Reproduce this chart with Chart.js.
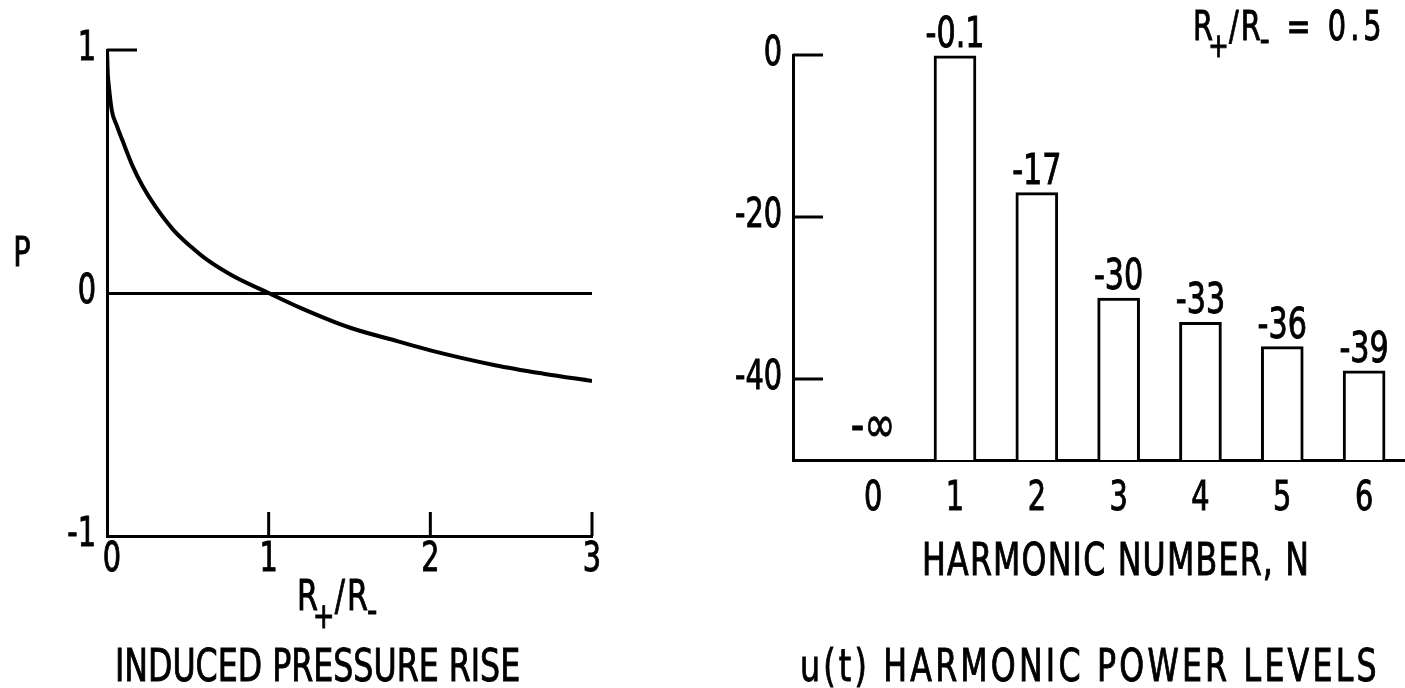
<!DOCTYPE html>
<html>
<head>
<meta charset="utf-8">
<script src="https://cdn.jsdelivr.net/npm/chart.js@4.4.1/dist/chart.umd.min.js"></script>
<style>
  body { margin: 0; background: #fff; }
  #wrap { position: relative; width: 1405px; height: 688px; }
  .box { position: absolute; top: 0; height: 688px; }
</style>
</head>
<body>
<div id="wrap">
  <div class="box" style="left:0;width:700px"><canvas id="left"></canvas></div>
  <div class="box" style="left:700px;width:705px"><canvas id="right"></canvas></div>
</div>
<script>
// left panel: induced pressure rise P vs R+/R-
const ratio    = [0, 0.005, 0.01, 0.03, 0.06, 0.1, 0.16, 0.22, 0.3, 0.41, 0.52, 0.62, 0.78, 1.0, 1.2, 1.5, 1.8, 2.0, 2.4, 2.7, 3.0];
const pressure = [1.0, 0.9, 0.86, 0.75, 0.69, 0.62, 0.52, 0.44, 0.355, 0.26, 0.19, 0.136, 0.07, 0, -0.062, -0.142, -0.199, -0.236, -0.297, -0.332, -0.362];
const ratioTicks = [0, 1, 2, 3];
const pressureTicks = [-1, 0, 1];

// right panel: harmonic power levels (dB), R+/R- = 0.5
const harmonicN = [0, 1, 2, 3, 4, 5, 6];
const powerDb   = [null, -0.1, -17, -30, -33, -36, -39];
const powerText = ['-\u221E', '-0.1', '-17', '-30', '-33', '-36', '-39'];
const powerTicks = [-40, -20, 0];
const powerFloor = -50;

const FONT = "'DejaVu Sans Condensed', 'Liberation Sans Narrow', sans-serif";
const SX = 0.8;   // squeeze text sideways, the original lettering is very narrow
Chart.defaults.font.family = FONT;
Chart.defaults.color = '#000';

function fixedTicks(values) {
  return function(scale) { scale.ticks = values.map(v => ({ value: v })); };
}

function putText(ctx, text, x, y, size, align, baseline, spacing) {
  ctx.save();
  ctx.font = size + 'px ' + FONT;
  ctx.letterSpacing = (spacing || 0) + 'px';
  const w = ctx.measureText(text).width * SX;
  const left = align === 'center' ? x - w / 2 : align === 'right' ? x - w : x;
  ctx.translate(left, y);
  ctx.scale(SX, 1);
  ctx.fillStyle = '#000';
  ctx.strokeStyle = '#000';
  ctx.lineWidth = 0.9;
  ctx.textAlign = 'left';
  ctx.textBaseline = baseline || 'alphabetic';
  ctx.fillText(text, 0, 0);
  ctx.strokeText(text, 0, 0);
  ctx.restore();
  return w;
}

// short tick marks pointing into the plot, and the tick labels
const axisMarks = {
  id: 'axisMarks',
  afterDraw(chart, args, opts) {
    const { ctx, scales: { x, y } } = chart;
    ctx.save();
    ctx.strokeStyle = '#000';
    ctx.lineWidth = 3;
    (opts.yValues || []).forEach(v => {
      const py = y.getPixelForValue(v);
      ctx.beginPath(); ctx.moveTo(x.left, py); ctx.lineTo(x.left + opts.yLen, py); ctx.stroke();
    });
    (opts.xValues || []).forEach(v => {
      const px = x.getPixelForValue(v);
      ctx.beginPath(); ctx.moveTo(px, y.bottom); ctx.lineTo(px, y.bottom - opts.xLen); ctx.stroke();
    });
    ctx.restore();
    y.ticks.forEach(t => putText(ctx, String(t.value), y.right - opts.yPad, y.getPixelForValue(t.value), opts.size, 'right', 'middle'));
    x.ticks.forEach(t => putText(ctx, String(t.value), x.getPixelForValue(t.value) + (t.value === 0 ? opts.x0Shift : 0), x.top + opts.xPad, opts.size, 'center', 'top'));
  }
};

// R+/R- with the lowered signs
function drawRatio(ctx, x, y, size, tail) {
  let w = putText(ctx, 'R', x, y, size);
  const pw = putText(ctx, '+', x + w - size * 0.12, y + size * 0.42, size * 0.85);
  x += w + pw * 0.78;
  w = putText(ctx, '/', x, y, size);
  x += w + size * 0.05;
  w = putText(ctx, 'R', x, y, size);
  x += w;
  w = putText(ctx, '-', x - 1, y + size * 0.3, size * 0.95);
  x += w + size * 0.4;
  if (tail) putText(ctx, tail, x, y, size, 'left', 'alphabetic', 5);
}

const texts = {
  id: 'texts',
  afterDraw(chart, args, opts) {
    const ctx = chart.ctx;
    (opts.items || []).forEach(t => {
      if (t.ratio) drawRatio(ctx, t.x, t.y, t.size, t.tail);
      else putText(ctx, t.text, t.x, t.y, t.size, t.align, 'alphabetic', t.spacing);
    });
  }
};

const barLabels = {
  id: 'barLabels',
  afterDatasetsDraw(chart) {
    const { ctx, scales: { x, y } } = chart;
    harmonicN.forEach((n, i) => {
      const v = powerDb[i];
      const px = x.getPixelForValue(n);
      const py = y.getPixelForValue(v === null ? powerFloor : v);
      putText(ctx, powerText[i], px, py - (v === null ? 18 : 9), v === null ? 52 : 42, 'center');
    });
  }
};

new Chart(document.getElementById('left'), {
  type: 'line',
  data: {
    datasets: [{
      data: ratio.map((r, i) => ({ x: r, y: pressure[i] })),
      borderColor: '#000',
      borderWidth: 4,
      pointRadius: 0,
      cubicInterpolationMode: 'monotone',
      fill: false
    }]
  },
  plugins: [axisMarks, texts],
  options: {
    responsive: true,
    maintainAspectRatio: false,
    animation: false,
    layout: { padding: { left: 0, top: 50, right: 108, bottom: 0 } },
    plugins: {
      legend: { display: false },
      tooltip: { enabled: false },
      axisMarks: { yValues: [1], yLen: 30, xValues: [1, 2, 3], xLen: 24, size: 40, yPad: 11, xPad: 5, x0Shift: 5 },
      texts: {
        items: [
          { text: 'P', x: 22, y: 266, size: 40, align: 'center' },
          { ratio: true, x: 297, y: 610, size: 42 },
          { text: 'INDUCED PRESSURE RISE', x: 115, y: 681, size: 44 }
        ]
      }
    },
    scales: {
      x: {
        type: 'linear', min: 0, max: 3,
        afterBuildTicks: fixedTicks(ratioTicks),
        afterFit(s) { s.height = 152; s.paddingLeft = 0; s.paddingRight = 0; },
        grid: { display: false, drawTicks: false },
        border: { display: true, color: '#000', width: 3 },
        ticks: { display: false }
      },
      y: {
        type: 'linear', min: -1, max: 1,
        afterBuildTicks: fixedTicks(pressureTicks),
        afterFit(s) { s.width = 107; s.paddingTop = 0; s.paddingBottom = 0; },
        grid: {
          drawTicks: false,
          lineWidth: 3,
          color: c => (c.tick && c.tick.value === 0) ? '#000' : 'rgba(0,0,0,0)'
        },
        border: { display: true, color: '#000', width: 3 },
        ticks: { display: false }
      }
    }
  }
});

new Chart(document.getElementById('right'), {
  type: 'bar',
  data: {
    datasets: [{
      data: harmonicN.map((n, i) => ({ x: n, y: powerDb[i] })).filter(p => p.y !== null),
      base: powerFloor,
      backgroundColor: '#fff',
      borderColor: '#000',
      borderWidth: 3,
      barThickness: 42
    }]
  },
  plugins: [axisMarks, barLabels, texts],
  options: {
    responsive: true,
    maintainAspectRatio: false,
    animation: false,
    layout: { padding: { left: 0, top: 55, right: 0, bottom: 0 } },
    plugins: {
      legend: { display: false },
      tooltip: { enabled: false },
      axisMarks: { yValues: powerTicks, yLen: 30, xValues: [], xLen: 0, size: 40, yPad: 11, xPad: 20, x0Shift: 0 },
      texts: {
        items: [
          { ratio: true, x: 493, y: 40, size: 40, tail: '= 0.5' },
          { text: 'HARMONIC NUMBER, N', x: 222, y: 575, size: 44, spacing: 1.5 },
          { text: 'u(t) HARMONIC POWER LEVELS', x: 100, y: 681, size: 44, spacing: 4 }
        ]
      }
    },
    scales: {
      x: {
        type: 'linear', min: -0.98, max: 6.5, offset: false,
        afterBuildTicks: fixedTicks(harmonicN),
        afterFit(s) { s.height = 228; s.paddingLeft = 0; s.paddingRight = 0; },
        grid: { display: false, drawTicks: false, offset: false },
        border: { display: true, color: '#000', width: 3 },
        ticks: { display: false }
      },
      y: {
        type: 'linear', min: powerFloor, max: 0,
        afterBuildTicks: fixedTicks(powerTicks),
        afterFit(s) { s.width = 93; s.paddingTop = 0; s.paddingBottom = 0; },
        grid: { display: false, drawTicks: false },
        border: { display: true, color: '#000', width: 3 },
        ticks: { display: false }
      }
    }
  }
});
</script>
</body>
</html>
